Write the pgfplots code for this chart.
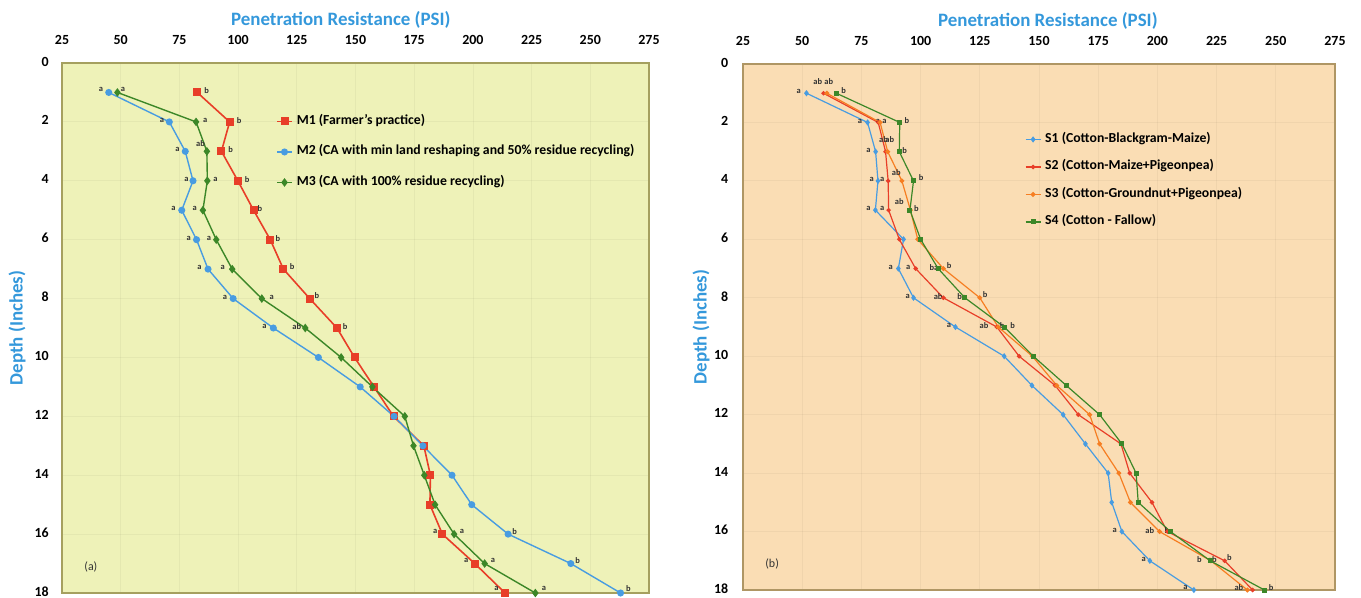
\documentclass[border=0pt]{standalone}
\usepackage{fontspec}
\setmainfont{Carlito}
\usepackage{pgfplots}
\pgfplotsset{compat=1.18}
\definecolor{bgA}{RGB}{238,242,184}
\definecolor{bgB}{RGB}{250,221,180}
\definecolor{frameA}{RGB}{165,160,95}
\definecolor{frameB}{RGB}{175,150,100}
\definecolor{ttl}{RGB}{52,152,219}
\definecolor{cRed}{RGB}{232,62,40}
\definecolor{cBlue}{RGB}{72,156,225}
\definecolor{cGreen}{RGB}{60,135,40}
\definecolor{cOrange}{RGB}{246,126,34}
\newcommand{\lab}[3]{\node[font=\bfseries\fontsize{8.5}{8.5}\selectfont,text=black!80,inner sep=0pt] at (axis cs:#1,#2) {#3};}
\pgfplotsset{
 panel/.style={
   scale only axis,
   xmin=25,xmax=275, ymin=0,ymax=18, y dir=reverse,
   xtick={25,50,...,275}, ytick={0,2,...,18},
   xticklabel pos=upper,
   major tick length=0pt,
   grid=major,
   major grid style={draw=black,opacity=0.04,line width=0.8pt},
   tick label style={font=\bfseries\fontsize{14}{16}\selectfont, /pgf/number format/assume math mode=true},
   xticklabel style={anchor=base, yshift=19bp},
   legend cell align=left,
   clip=false,
   legend style={draw=none,fill=none,inner sep=0pt,
     font=\bfseries\fontsize{13.8}{14}\selectfont,
     nodes={inner ysep=0pt,inner xsep=2bp,text height=8bp,text depth=2.5bp},
     /tikz/every odd column/.append style={column sep=2bp}},
   legend image code/.code={\draw[mark repeat=2,mark phase=2,##1] plot coordinates {(0bp,0bp) (7.5bp,0bp) (15bp,0bp)};},
 }
}
\begin{document}
\begin{tikzpicture}
\useasboundingbox (0,0) rectangle (1361bp,-598bp);
% ---------------- panel (a)
\begin{axis}[panel, at={(62bp,-63bp)}, anchor=north west, width=587bp, height=530bp,
  axis background/.style={fill=bgA},
  axis line style={draw=frameA,line width=1.3pt},
  yticklabel style={anchor=east,inner sep=0pt,xshift=-13bp,yshift=1.5bp},
  legend style={at={(axis description cs:0.3646,1)},anchor=north west,yshift=-53bp,row sep=20bp}]
\addplot[cRed,line width=1.6pt,mark=square*,mark size=3.2bp] coordinates {(82.6,1)(96.4,2)(92.9,3)(99.9,4)(106.6,5)(113.7,6)(119.3,7)(130.5,8)(142.1,9)(149.6,10)(157.9,11)(166.2,12)(179.1,13)(181.9,14)(181.7,15)(187.0,16)(200.8,17)(213.7,18)};
\addlegendentry{M1 (Farmer’s practice)}
\addplot[cBlue,line width=1.4pt,mark=*,mark size=2.8bp] coordinates {(44.9,1)(70.7,2)(77.5,3)(80.8,4)(76.0,5)(82.3,6)(87.2,7)(97.9,8)(115.0,9)(134.2,10)(152.0,11)(166.4,12)(178.7,13)(191.1,14)(199.5,15)(215.0,16)(241.7,17)(262.9,18)};
\addlegendentry{M2 (CA with min land reshaping and 50\% residue recycling)}
\addplot[cGreen,line width=1.4pt,mark=diamond*,mark size=3.2bp] coordinates {(48.6,1)(82.1,2)(86.7,3)(86.9,4)(85.0,5)(90.7,6)(97.5,7)(110.1,8)(128.6,9)(143.9,10)(157.2,11)(171.0,12)(174.7,13)(179.3,14)(183.9,15)(192.0,16)(205.0,17)(226.6,18)};
\addlegendentry{M3 (CA with 100\% residue recycling)}
\node[anchor=base,font=\bfseries\fontsize{19}{21}\selectfont,text=ttl] at ([yshift=38bp]axis description cs:0.475,1) {Penetration Resistance (PSI)};
\node[rotate=90,font=\bfseries\fontsize{19}{21}\selectfont,text=ttl] at ([xshift=-45bp]axis description cs:0,0.5) {Depth (Inches)};
\node[font=\fontsize{12}{12}\selectfont,text=black!80] at (axis cs:37.3,17.1) {(a)};
\lab{41.6}{0.9}{a}\lab{51}{0.9}{a}\lab{86.6}{0.95}{b}
\lab{67.6}{1.95}{a}\lab{86}{1.95}{a}\lab{100.4}{1.95}{b}
\lab{74.2}{2.95}{a}\lab{84}{2.75}{ab}\lab{96.8}{2.95}{b}
\lab{78}{3.95}{a}\lab{90.4}{3.95}{a}\lab{103.8}{3.95}{b}
\lab{72.5}{4.95}{a}\lab{81.5}{4.95}{a}\lab{109.3}{4.95}{b}
\lab{79}{5.95}{a}\lab{87.6}{5.95}{a}\lab{117}{5.95}{b}
\lab{83.5}{6.95}{a}\lab{93.5}{6.95}{a}\lab{123}{6.9}{b}
\lab{94.4}{7.95}{a}\lab{114.3}{7.95}{a}\lab{133.6}{7.9}{b}
\lab{111.2}{8.95}{a}\lab{125}{8.95}{ab}\lab{145.6}{8.95}{b}
\lab{183.9}{15.9}{a}\lab{195.3}{15.9}{a}\lab{217.8}{15.9}{b}
\lab{197.1}{16.9}{a}\lab{208.5}{16.9}{a}\lab{244.6}{16.9}{b}
\lab{210}{17.85}{a}\lab{230.3}{17.85}{a}\lab{266.2}{17.85}{b}
\end{axis}
% ---------------- panel (b)
\begin{axis}[panel, at={(743bp,-64bp)}, anchor=north west, width=592bp, height=526bp,
  axis background/.style={fill=bgB},
  axis line style={draw=frameB,line width=1.3pt},
  yticklabel style={anchor=east,inner sep=0pt,xshift=-14.5bp,yshift=1.5bp},
  legend style={at={(axis description cs:0.476,1)},anchor=north west,yshift=-70bp,row sep=17bp}]
\addplot[cBlue,line width=1.2pt,mark=diamond*,mark size=2.2bp] coordinates {(51.8,1)(77.6,2)(81.0,3)(82.0,4)(80.9,5)(92.8,6)(90.6,7)(97.0,8)(114.7,9)(135.3,10)(147.0,11)(160.2,12)(169.6,13)(179.2,14)(180.7,15)(185.0,16)(196.8,17)(215.4,18)};
\addlegendentry{S1 (Cotton-Blackgram-Maize)}
\addplot[cRed,line width=1.2pt,mark=*,mark size=1.6bp] coordinates {(59.0,1)(82.1,2)(85.2,3)(86.3,4)(86.5,5)(91.0,6)(97.9,7)(109.6,8)(132.2,9)(141.6,10)(156.8,11)(166.6,12)(184.6,13)(188.3,14)(197.7,15)(204.2,16)(228.4,17)(240.2,18)};
\addlegendentry{S2 (Cotton-Maize+Pigeonpea)}
\addplot[cOrange,line width=1.2pt,mark=*,mark size=1.8bp] coordinates {(60.4,1)(82.9,2)(86.1,3)(92.1,4)(95.7,5)(98.8,6)(109.6,7)(125.0,8)(132.8,9)(147.2,10)(157.5,11)(171.4,12)(175.6,13)(183.7,14)(188.6,15)(200.9,16)(222.6,17)(238.0,18)};
\addlegendentry{S3 (Cotton-Groundnut+Pigeonpea)}
\addplot[cGreen,line width=1.2pt,mark=square*,mark size=1.9bp] coordinates {(64.4,1)(91.2,2)(91.0,3)(97.0,4)(95.5,5)(100.0,6)(107.4,7)(118.7,8)(135.3,9)(147.6,10)(161.5,11)(175.6,12)(185.0,13)(191.0,14)(191.9,15)(205.5,16)(222.3,17)(245.2,18)};
\addlegendentry{S4 (Cotton - Fallow)}
\node[anchor=base,font=\bfseries\fontsize{19}{21}\selectfont,text=ttl] at ([yshift=38bp]axis description cs:0.515,1) {Penetration Resistance (PSI)};
\node[rotate=90,font=\bfseries\fontsize{19}{21}\selectfont,text=ttl] at ([xshift=-42bp]axis description cs:0,0.5) {Depth (Inches)};
\node[font=\fontsize{12}{12}\selectfont,text=black!80] at (axis cs:37.3,17.1) {(b)};
\lab{48.5}{0.95}{a}\lab{56.6}{0.6}{ab}\lab{61.2}{0.6}{ab}\lab{67.5}{0.9}{b}
\lab{74.4}{1.95}{a}\lab{82}{1.95}{a}\lab{84.7}{1.95}{a}\lab{94.2}{1.95}{b}
\lab{78}{2.95}{a}\lab{84.3}{2.6}{ab}\lab{87}{2.6}{ab}\lab{93.3}{2.95}{b}
\lab{79.4}{3.95}{a}\lab{83.8}{3.95}{a}\lab{89.7}{3.7}{ab}\lab{100.2}{3.9}{b}
\lab{78}{4.95}{a}\lab{83.8}{4.95}{a}\lab{91}{4.7}{ab}\lab{98.2}{4.95}{b}
\lab{87.4}{6.95}{a}\lab{94.8}{6.95}{a}\lab{105.6}{6.95}{ba}\lab{112}{6.9}{b}
\lab{94.6}{7.95}{a}\lab{107.4}{7.95}{ab}\lab{117.4}{7.95}{ba}\lab{127.3}{7.9}{b}
\lab{112}{8.95}{a}\lab{126.8}{8.95}{ab}\lab{134.4}{8.95}{b}\lab{138.9}{8.95}{b}
\lab{182}{15.95}{a}\lab{196.8}{15.95}{ab}\lab{204}{15.95}{b}
\lab{194.2}{16.95}{a}\lab{217.7}{16.95}{b}\lab{223.2}{16.95}{ab}\lab{230.4}{16.9}{b}
\lab{211.8}{17.9}{a}\lab{234.4}{17.9}{ab}\lab{248}{17.9}{b}
\end{axis}
\end{tikzpicture}
\end{document}
